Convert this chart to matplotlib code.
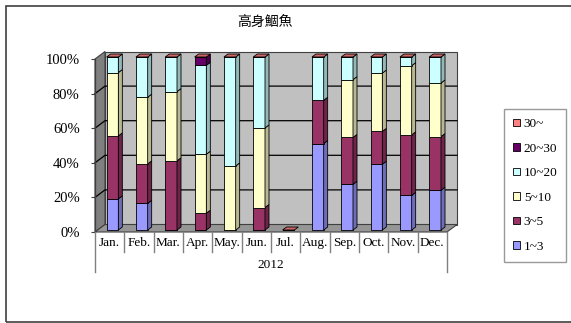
import matplotlib
matplotlib.use('Agg')
import matplotlib.pyplot as plt
import numpy as np
from matplotlib.patches import Polygon, Rectangle, Patch
from matplotlib.transforms import ScaledTranslation

# data: share (%) of each size class per month, 2012
months = ['Jan.', 'Feb.', 'Mar.', 'Apr.', 'May.', 'Jun.', 'Jul.',
          'Aug.', 'Sep.', 'Oct.', 'Nov.', 'Dec.']
year = '2012'
classes = ['1~3', '3~5', '5~10', '10~20', '20~30', '30~']
s_1_3 = [18, 15.4, 0, 0, 0, 0, 0, 50, 26.4, 38, 20, 23]
s_3_5 = [36.4, 22.8, 40, 9.7, 0, 13, 0, 25, 27.1, 19, 35, 31]
s_5_10 = [36.6, 38.6, 40, 34.1, 37, 46, 0, 0, 33.4, 33.7, 40, 31]
s_10_20 = [9, 23.2, 20, 51.4, 63, 41, 0, 25, 13.1, 9.3, 5, 15]
s_20_30 = [0, 0, 0, 4.8, 0, 0, 0, 0, 0, 0, 0, 0]
s_30 = [0, 0, 0, 0, 0, 0, 0, 0, 0, 0, 0, 0]
series = [s_1_3, s_3_5, s_5_10, s_10_20, s_20_30, s_30]
colors = ['#9999FF', '#993366', '#FFFFCC', '#CCFFFF', '#660066', '#FF8080']

W, H = 571, 323
fig = plt.figure(figsize=(W / 100, H / 100), dpi=100)
serif = 'Liberation Serif'

# chart border
fig.patches.append(Rectangle((6 / W, 1 - 322 / H), 1.0, (322 - 6) / H,
                             transform=fig.transFigure, fill=False,
                             edgecolor='#404040', lw=1.2))

# front plane of the 3d box
x0, x1, ytop, ybot = 95, 447, 59, 232
ax = fig.add_axes([x0 / W, 1 - ybot / H, (x1 - x0) / W, (ybot - ytop) / H])
n = len(months)
ax.set_xlim(-0.5, n - 0.5)
ax.set_ylim(0, 100)
for s in ax.spines.values():
    s.set_visible(False)
ax.patch.set_visible(False)

pxx = (x1 - x0) / n      # pixels per category
pxy = (ybot - ytop) / 100.0  # pixels per percent


def shade(c, f=0.72):
    r, g, b, _ = matplotlib.colors.to_rgba(c)
    return (r * f, g * f, b * f)


# walls
wdx, wdy = 10 / pxx, 7.5 / pxy
L, R = -0.5, n - 0.5
ax.add_patch(Polygon([(L + wdx, wdy), (R + wdx, wdy), (R + wdx, 100 + wdy), (L + wdx, 100 + wdy)],
                     closed=True, facecolor='#C0C0C0', edgecolor='#404040', lw=0.8,
                     clip_on=False, zorder=0))
ax.add_patch(Polygon([(L, 0), (L, 100), (L + wdx, 100 + wdy), (L + wdx, wdy)],
                     closed=True, facecolor='#808080', edgecolor='#404040', lw=0.8,
                     clip_on=False, zorder=0))
ax.add_patch(Polygon([(L, 0), (R, 0), (R + wdx, wdy), (L + wdx, wdy)],
                     closed=True, facecolor='#969696', edgecolor='#404040', lw=0.8,
                     clip_on=False, zorder=0))
for g in [20, 40, 60, 80]:
    ax.plot([L, L + wdx, R + wdx], [g, g + wdy, g + wdy], color='black', lw=0.9,
            clip_on=False, zorder=0.5)
ax.plot([L, L], [0, 100], color='#404040', lw=0.9, clip_on=False, zorder=0.5)

# bars, drawn slightly inside the box
boff = ax.transData + ScaledTranslation(2.8 / 100, 2 / 100, fig.dpi_scale_trans)
x = np.arange(n)
bw = 0.4
ddx, ddy = 4 / pxx, 3 / pxy
bottom = np.zeros(n)
for vals, col in zip(series, colors):
    vals = np.array(vals, dtype=float)
    ax.bar(x, vals, bw, bottom=bottom, color=col, edgecolor='black', lw=0.6,
           transform=boff, zorder=2, clip_on=False)
    for i in range(n):
        if vals[i] <= 0:
            continue
        xr = x[i] + bw / 2
        y0, y1 = bottom[i], bottom[i] + vals[i]
        ax.add_patch(Polygon([(xr, y0), (xr, y1), (xr + ddx, y1 + ddy), (xr + ddx, y0 + ddy)],
                             closed=True, facecolor=shade(col), edgecolor='black', lw=0.6,
                             transform=boff, zorder=2, clip_on=False))
    bottom = bottom + vals
# top caps (zero-height top series shows its colour)
for i in range(n):
    xl, xr, yt = x[i] - bw / 2, x[i] + bw / 2, bottom[i]
    ax.add_patch(Polygon([(xl, yt), (xr, yt), (xr + ddx, yt + ddy), (xl + ddx, yt + ddy)],
                         closed=True, facecolor=shade(colors[-1], 0.8), edgecolor='black',
                         lw=0.6, transform=boff, zorder=3, clip_on=False))

# y axis
ax.set_yticks([0, 20, 40, 60, 80, 100])
ax.set_yticklabels(['%d%%' % v for v in [0, 20, 40, 60, 80, 100]], family=serif, fontsize=10.5)
ax.tick_params(axis='y', length=3, color='#404040', pad=8)

# category axis: months then year
ax.set_xticks([])
xt = ax.get_xaxis_transform()
for i, m in enumerate(months):
    ax.text(i, -0.064, m, transform=xt, ha='center', va='center', family=serif, fontsize=9.5)
for b in range(n + 1):
    ylo = -0.231 if b in (0, n) else -0.116
    ax.plot([b - 0.5, b - 0.5], [0, ylo], transform=xt, color='#808080', lw=1, clip_on=False)
ax.text((n - 1) / 2, -0.192, year, transform=xt, ha='center', va='center', family=serif,
        fontsize=9.5)

fig.text(265 / W, 1 - 22 / H, '高身鯝魚', ha='center', va='center',
         family=['Noto Sans CJK TC', 'DejaVu Sans'], fontsize=10)

handles = [Patch(facecolor=c, edgecolor='black', lw=0.6, label=l)
           for c, l in zip(colors[::-1], classes[::-1])]
leg = fig.legend(handles=handles, loc='center',
                 bbox_to_anchor=(504 / W, 1 - 261 / H, 62 / W, 151 / H), mode='expand',
                 prop={'family': serif, 'size': 9.5}, handlelength=0.5, handleheight=0.5,
                 handletextpad=0.3, labelspacing=0.95, borderpad=0.7, fancybox=False,
                 borderaxespad=0)
leg.get_frame().set_edgecolor('#808080')
leg.get_frame().set_linewidth(1)

fig.savefig('out.png', dpi=100)
